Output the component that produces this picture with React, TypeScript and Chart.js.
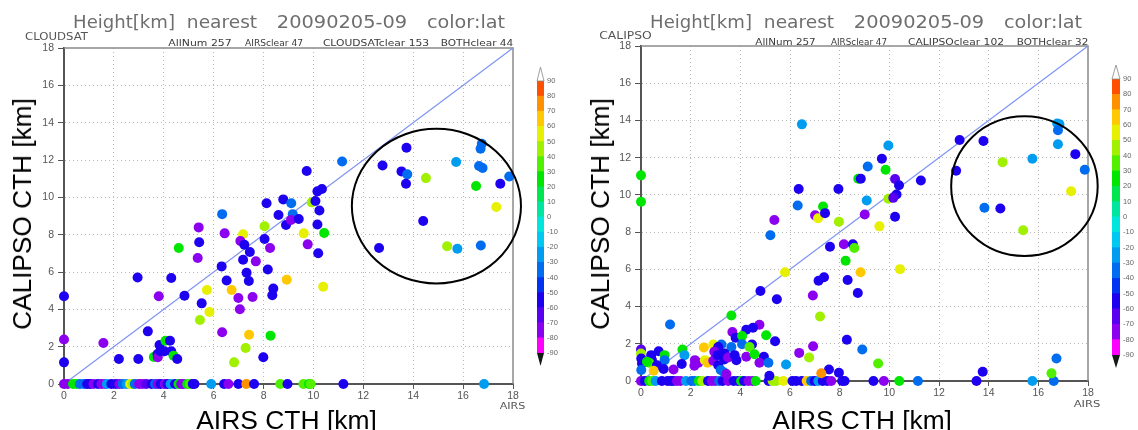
import React, { useEffect, useLayoutEffect, useRef, useState } from "react";
import { Chart, registerables } from "chart.js";
Chart.register(...registerables);

// ---------------- data ----------------
const AXIS_MIN = 0;
const AXIS_MAX = 18;
const AXIS_STEP = 2;
const ONE_TO_ONE = [0, 18];
const LAT_BOUNDS = [-90, -80, -70, -60, -50, -40, -30, -20, -10, 0, 10, 20, 30, 40, 50, 60, 70, 80, 90];
const BAND_COLORS = [
  "#ff00ff", "#8c00f0", "#5a00f0", "#1e00f0", "#0034f0", "#006cf0", "#009cf0", "#00c8f0", "#00e6dc",
  "#00e6a0", "#00e650", "#00e600", "#50f000", "#a0f000", "#e6f000", "#ffc800", "#ff9000", "#ff5000",
];

// CloudSat panel (AIRS CTH vs CTH, colour = latitude)
const CLOUDSAT_AIRS = [
  0, 0, 0, 1.58, 2.2, 2.98, 2.95, 3.36, 3.6, 3.75, 3.8, 3.76, 3.83, 3.86, 4.07, 4.25, 4.03, 4.3, 4.39, 4.54,
  4.3, 4.6, 4.83, 5.4, 5.42, 5.36, 5.52, 5.73, 5.45, 5.83, 6.34, 6.44, 6.32, 6.52, 6.72, 6.34, 6.82, 7.18, 7.07, 7.23,
  7.45, 7.18, 7.69, 7.32, 7.41, 6.99, 7.05, 7.56, 7.42, 7.28, 8.04, 8.12, 8.04, 8.26, 8.17, 8.39, 8.35, 8.28, 7.99, 8.6,
  8.79, 8.9, 8.93, 9.11, 9.17, 9.1, 9.41, 9.61, 9.73, 9.77, 9.93, 10.08, 10.16, 10.34, 10.24, 10.16, 10.43, 10.19, 10.39, 11.15,
  12.77, 13.73, 13.53, 13.76, 13.71, 14.51, 14.4, 12.63, 15.36, 15.77, 15.72, 16.75, 16.7, 16.64, 16.78, 16.52, 17.49, 17.85, 17.33, 16.71,
];
const CLOUDSAT_CTH = [
  4.7, 2.38, 1.16, 2.2, 1.34, 1.34, 5.71, 2.82, 1.45, 1.6, 4.7, 1.43, 2.09, 1.75, 2.32, 2.32, 1.75, 1.75, 1.52, 1.34,
  5.68, 7.29, 4.73, 8.39, 7.59, 6.75, 4.32, 5.04, 3.43, 3.86, 9.1, 8.07, 6.3, 5.54, 5.04, 2.77, 1.16, 8.02, 7.66, 7.46,
  7.07, 6.66, 6.57, 5.96, 5.52, 4.61, 4.0, 4.66, 2.64, 1.93, 8.45, 9.68, 7.77, 7.29, 6.13, 5.11, 4.75, 2.59, 1.43, 9.05,
  9.89, 8.52, 5.59, 9.68, 9.1, 8.79, 8.84, 8.07, 11.41, 7.48, 9.73, 9.8, 10.32, 10.45, 9.29, 8.54, 8.09, 7.0, 5.21, 11.92,
  11.71, 12.66, 11.39, 11.23, 10.73, 11.03, 8.73, 7.29, 7.38, 7.25, 11.89, 12.87, 12.6, 11.68, 11.57, 10.61, 10.73, 11.12, 9.48, 7.42,
];
const CLOUDSAT_LAT = [
  -55, -75, -55, -75, -55, -55, -55, -55, 25, -55, -75, -75, -55, -55, 25, -55, -55, -55, 25, -55,
  -55, 25, -55, -75, -55, -75, -55, 55, 45, 55, -35, -75, -55, -55, 65, -75, 45, 55, -75, -55,
  -55, -55, -75, -55, -55, -75, -75, -75, 65, 45, 45, -55, -55, -75, -55, -55, -55, 25, -55, -55,
  -55, -55, 65, -35, -35, -75, -55, 55, -55, -75, 45, -55, -55, -55, -55, -55, 25, -55, 55, -35,
  -55, -55, -55, -35, -55, 45, -55, -55, 45, -25, -25, -35, -35, -35, -35, 25, -55, -35, 55, -35,
];
// CloudSat clear (CTH = 0)
const CLOUDSAT_CLEAR_AIRS = [
  0, 0.15, 0.36, 0.5, 0.64, 0.8, 0.93, 1.05, 1.18, 1.36, 1.5, 1.65, 1.72, 1.9, 2.08, 2.22, 2.35, 2.51, 2.65, 2.75,
  2.84, 3.01, 3.15, 3.3, 3.51, 3.65, 3.75, 3.87, 4.04, 4.15, 4.27, 4.45, 4.59, 4.7, 4.8, 4.94, 5.05, 5.16, 5.23, 5.9,
  6.42, 6.59, 6.99, 7.31, 7.62, 8.67, 8.96, 9.6, 9.82, 9.89, 11.2, 16.84,
];
const CLOUDSAT_CLEAR_LAT = [
  -75, -75, 25, 25, -35, -35, -55, -55, -75, -55, -75, -75, -25, -55, -55, -75, -35, -25, 55, 45,
  -35, -75, -75, -65, -55, -35, -75, -55, -75, -55, -25, -55, 25, -75, -75, 25, 35, -55, -55, -25,
  -55, -75, -55, 75, -55, 35, -55, 35, 25, 35, -55, -25,
];

// CALIPSO panel
const CALIPSO_AIRS = [
  0, 0, 1.17, 6.48, 6.31, 6.35, 5.37, 5.21, 5.8, 4.81, 5.47, 7.01, 7.13, 7.33, 7.41, 7.61, 7.15, 7.37, 6.92, 7.21,
  7.95, 7.97, 8.17, 8.53, 8.59, 8.24, 8.32, 8.84, 8.73, 8.29, 8.91, 9.01, 9.09, 9.13, 8.75, 8.85, 9.7, 9.6, 9.55, 7.97,
  7.57, 7.26, 6.77, 6.93, 6.37, 5.84, 9.96, 9.85, 10.23, 10.39, 11.27, 10.29, 9.96, 10.16, 10.23, 10.43, 12.83, 13.79, 12.69, 14.56,
  15.76, 16.76, 16.85, 16.79, 16.79, 17.49, 17.87, 17.32, 13.83, 14.47, 15.39, 16.73, 16.53, 13.76,
  3.64, 4.77, 3.68, 3.81, 4.24, 4.51, 4.07, 5.04, 5.4, 2.53, 2.91, 3.24, 3.11, 3.64, 4.07, 4.47, 4.37, 1.67, 1.75, 0.71,
  0.95, 0.95, 0, 0, 0.01, 0.04, 0.01, 0.41, 0.44, 0.33, 0.24, 0.64, 0.51, 0.91, 1.31, 1.64, 2.17, 2.31, 2.15, 2.57,
  2.68, 2.91, 2.95, 3.08, 3.37, 3.35, 3.51, 3.77, 3.84, 3.11, 3.21, 3.35, 3.44, 4.24, 4.57, 4.95, 4.77, 5.13, 5.17,
];
const CALIPSO_CTH = [
  11.05, 9.63, 3.04, 13.79, 9.43, 10.32, 8.65, 7.83, 5.84, 4.84, 4.39, 8.9, 8.74, 9.38, 9.02, 7.21, 5.39, 5.57, 4.59, 3.47,
  10.32, 8.56, 7.35, 7.35, 7.15, 6.46, 5.43, 5.84, 4.73, 2.22, 1.69, 8.95, 9.7, 11.53, 10.87, 10.87, 11.94, 8.31, 0.94, 0.44,
  0.62, 0.42, 1.26, 1.87, 1.51, 0.89, 12.65, 11.35, 10.85, 10.52, 10.77, 10.02, 9.79, 9.84, 8.83, 6.01, 12.95, 12.9, 11.3, 11.76,
  11.94, 13.84, 13.8, 13.47, 12.72, 12.19, 11.35, 10.2, 9.31, 9.27, 8.1, 1.21, 0.41, 0.5,
  3.52, 3.02, 2.63, 2.33, 2.76, 2.86, 2.42, 2.46, 2.14, 1.8, 1.96, 1.96, 1.83, 1.83, 1.98, 1.96, 1.83, 1.69, 1.39, 1.6,
  1.39, 1.12, 1.69, 1.48, 1.21, 0.94, 0.59, 1.39, 1.12, 0.98, 1.03, 0.85, 0.55, 0.64, 0.62, 0.91, 1.12, 0.98, 0.82, 1.12,
  0.98, 1.09, 1.57, 1.39, 1.48, 1.16, 1.26, 1.39, 1.12, 0.85, 0.59, 0.46, 0.37, 1.3, 1.44, 1.3, 0.98, 0.98, 0.28,
];
const CALIPSO_LAT = [
  25, 25, -35, -25, -35, -55, -75, -35, 55, -55, -55, -75, 55, 25, -55, -55, -55, -55, -75, 45,
  -55, 45, -75, -55, 35, 25, -55, 65, -55, -55, -35, -75, -25, -35, 25, -55, -55, 55, 35, -55,
  -55, 75, 45, -75, -75, -25, -25, 25, -65, -55, -55, -55, 45, -65, -55, 55, -55, -55, -55, 45,
  -25, -25, -25, -35, -25, -55, -35, 55, -35, -55, 45, -35, 35, -55,
  25, -75, -75, -55, -55, -55, 25, 25, -55, 65, 55, -35, -55, -35, -35, -55, 35, 25, -25, -55,
  25, -35, -65, 45, -55, -55, -35, -55, -55, 35, 25, -55, 65, -55, -75, -55, -75, -75, -75, 55,
  65, -75, -75, -55, -55, -55, -75, -55, -55, -55, -35, -35, -75, -75, 25, -55, -75, -35, -55,
];
// CALIPSO clear (CTH = 0)
const CALIPSO_CLEAR_AIRS = [
  0, 0.15, 0.33, 0.45, 0.59, 0.84, 1.07, 1.2, 1.3, 1.45, 1.59, 1.81, 2.03, 2.15, 2.33, 2.47, 2.7, 2.85, 2.99, 3.15,
  3.29, 3.51, 3.73, 3.9, 4.03, 4.15, 4.33, 4.5, 4.62, 5.14, 5.3, 5.44, 5.73, 6.1, 6.25, 6.47, 6.67, 6.85, 6.99, 7.14,
  7.32, 7.5, 7.66, 8.1, 8.2, 9.36, 9.78, 10.4, 11.15, 13.51, 15.76, 16.62,
];
const CALIPSO_CLEAR_LAT = [
  -75, -55, 25, 35, -25, -55, -55, -55, -55, -75, -75, -25, -35, -35, 25, 45, -55, -75, -75, -35,
  -55, -75, -55, -55, 25, -55, -75, -75, 25, -55, 45, 45, 55, -55, -55, -55, 65, -35, -55, -25,
  -55, -55, -75, -55, -55, -55, -75, 25, -35, -55, -25, -35,
];

// circled regions (data units)
const CLOUDSAT_RING = { cx: 14.93, cy: 9.53, rx: 3.39, ry: 4.14 };
const CALIPSO_RING = { cx: 15.44, cy: 10.47, rx: 2.95, ry: 3.75 };

// ---------------- helpers ----------------
function latColor(lat: number) {
  const i = Math.min(BAND_COLORS.length - 1, Math.max(0, Math.floor((lat + 90) / 10)));
  return BAND_COLORS[i];
}

const TICK_FONT = { family: "Liberation Sans", size: 10.5 };
const TICK_COLOR = "#555";

const framePlugin = {
  id: "frame",
  beforeDatasetsDraw(chart: any) {
    const { ctx, chartArea: a } = chart;
    ctx.save();
    ctx.strokeStyle = "#8a8a8a";
    ctx.lineWidth = 1.5;
    ctx.beginPath();
    ctx.moveTo(a.left, a.top);
    ctx.lineTo(a.right, a.top);
    ctx.lineTo(a.right, a.bottom);
    ctx.stroke();
    ctx.restore();
  },
};

function ringPlugin(ring: { cx: number; cy: number; rx: number; ry: number }) {
  return {
    id: "ring",
    afterDatasetsDraw(chart: any) {
      const { ctx, scales } = chart;
      const x = scales.x, y = scales.y;
      const px = x.getPixelForValue(ring.cx);
      const py = y.getPixelForValue(ring.cy);
      const rx = Math.abs(x.getPixelForValue(ring.cx + ring.rx) - px);
      const ry = Math.abs(y.getPixelForValue(ring.cy + ring.ry) - py);
      ctx.save();
      ctx.strokeStyle = "#000";
      ctx.lineWidth = 2;
      ctx.beginPath();
      ctx.ellipse(px, py, rx, ry, 0, 0, Math.PI * 2);
      ctx.stroke();
      ctx.restore();
    },
  };
}

type PanelProps = {
  left: number; W: number; H: number;
  area: { l: number; t: number; r: number; b: number };
  xs: number[]; ys: number[]; lats: number[];
  clearXs: number[]; clearLats: number[];
  ring: { cx: number; cy: number; rx: number; ry: number };
};

function ScatterPanel(p: PanelProps) {
  const ref = useRef<HTMLCanvasElement>(null);
  useEffect(() => {
    if (!ref.current) return;
    const pts = [
      ...p.clearXs.map((x) => ({ x, y: 0 })),
      ...p.xs.map((x, i) => ({ x, y: p.ys[i] })),
    ];
    const cols = [...p.clearLats, ...p.lats].map(latColor);
    const gridColor = (c: any) =>
      c.tick && (c.tick.value === AXIS_MIN || c.tick.value === AXIS_MAX) ? "rgba(0,0,0,0)" : "#b8b8b8";
    const chart = new Chart(ref.current, {
      type: "scatter",
      data: {
        datasets: [
          {
            data: pts,
            pointBackgroundColor: cols,
            pointBorderWidth: 0,
            pointRadius: 5,
            pointHoverRadius: 5,
            clip: false as any,
          } as any,
          {
            type: "line",
            data: [
              { x: ONE_TO_ONE[0], y: ONE_TO_ONE[0] },
              { x: ONE_TO_ONE[1], y: ONE_TO_ONE[1] },
            ],
            borderColor: "#7f95f2",
            borderWidth: 1.2,
            pointRadius: 0,
            fill: false,
            clip: false as any,
          } as any,
        ],
      },
      options: {
        animation: false,
        responsive: false,
        devicePixelRatio: 1,
        events: [],
        layout: { padding: { left: 0, top: p.area.t, right: p.W - p.area.r, bottom: 0 } },
        plugins: { legend: { display: false }, tooltip: { enabled: false } },
        scales: {
          x: {
            type: "linear",
            min: AXIS_MIN,
            max: AXIS_MAX,
            ticks: { stepSize: AXIS_STEP, font: TICK_FONT, color: TICK_COLOR, padding: 1, maxRotation: 0, autoSkip: false },
            grid: { color: gridColor, lineWidth: 1, tickLength: 5, tickColor: "#555", tickWidth: 1 },
            border: { display: true, color: "#555", width: 2, dash: [1, 3] },
            afterFit: (s: any) => { s.height = p.H - p.area.b; },
          },
          y: {
            type: "linear",
            min: AXIS_MIN,
            max: AXIS_MAX,
            ticks: { stepSize: AXIS_STEP, font: TICK_FONT, color: TICK_COLOR, padding: 4, autoSkip: false },
            grid: { color: gridColor, lineWidth: 1, tickLength: 6, tickColor: "#555", tickWidth: 1 },
            border: { display: true, color: "#555", width: 2, dash: [1, 3] },
            afterFit: (s: any) => { s.width = p.area.l; },
          },
        },
      } as any,
      plugins: [framePlugin, ringPlugin(p.ring)],
    });
    return () => chart.destroy();
  }, []);
  return (
    <canvas
      ref={ref}
      width={p.W}
      height={p.H}
      style={{ position: "absolute", left: p.left, top: 0, width: p.W, height: p.H }}
    />
  );
}

const trianglePlugin = {
  id: "tri",
  afterDatasetsDraw(chart: any) {
    const { ctx, chartArea: a, scales } = chart;
    const y = scales.y;
    const top = y.getPixelForValue(90);
    const bot = y.getPixelForValue(-90);
    const cx = (a.left + a.right) / 2;
    ctx.save();
    ctx.beginPath();
    ctx.moveTo(a.left, top);
    ctx.lineTo(cx, top - 14);
    ctx.lineTo(a.right, top);
    ctx.closePath();
    ctx.fillStyle = "#fff";
    ctx.fill();
    ctx.strokeStyle = "#888";
    ctx.lineWidth = 0.8;
    ctx.stroke();
    ctx.beginPath();
    ctx.moveTo(a.left, bot);
    ctx.lineTo(cx, bot + 13);
    ctx.lineTo(a.right, bot);
    ctx.closePath();
    ctx.fillStyle = "#141a14";
    ctx.fill();
    ctx.restore();
  },
};

function ColorBar({ left, top, W, H, pl, pt, pb, axisW }: any) {
  const ref = useRef<HTMLCanvasElement>(null);
  useEffect(() => {
    if (!ref.current) return;
    const chart = new Chart(ref.current, {
      type: "bar",
      data: {
        labels: [""],
        datasets: BAND_COLORS.map((c, i) => ({
          data: [[LAT_BOUNDS[i], LAT_BOUNDS[i + 1]]] as any,
          backgroundColor: c,
          borderWidth: 0,
          grouped: false,
          barPercentage: 1,
          categoryPercentage: 1,
        })) as any,
      },
      options: {
        animation: false,
        responsive: false,
        devicePixelRatio: 1,
        events: [],
        layout: { padding: { left: pl, top: pt, right: 0, bottom: pb } },
        plugins: { legend: { display: false }, tooltip: { enabled: false } },
        scales: {
          x: { display: false },
          y: {
            position: "right",
            min: -90,
            max: 90,
            ticks: { stepSize: 10, font: { family: "Liberation Sans", size: 7.5 }, color: "#666", padding: 3, autoSkip: false },
            grid: { display: false, drawTicks: false },
            border: { display: false },
            afterFit: (s: any) => { s.width = axisW; },
          },
        },
      } as any,
      plugins: [trianglePlugin],
    });
    return () => chart.destroy();
  }, []);
  return (
    <canvas ref={ref} width={W} height={H} style={{ position: "absolute", left, top, width: W, height: H }} />
  );
}

type TextSpec = {
  text: string; cx: number; cy: number; len: number; size: number;
  font: string; color: string; weight?: string; rot?: boolean;
};

function hText(text: string, x1: number, x2: number, base: number, size: number, font: string, color: string, weight = "normal"): TextSpec {
  return { text, cx: (x1 + x2) / 2, cy: base - 0.346 * size, len: x2 - x1, size, font, color, weight };
}

const TITLE_FONT = "DejaVu Sans";
const AXIS_TITLE_FONT = "Liberation Sans";
const TEXTS: TextSpec[] = [
  hText("Height[km]", 73, 175, 28.5, 17, TITLE_FONT, "#6e6e6e"),
  hText("nearest", 187, 257, 28.5, 17, TITLE_FONT, "#6e6e6e"),
  hText("20090205-09", 277, 407, 28.5, 17, TITLE_FONT, "#6e6e6e"),
  hText("color:lat", 427, 505, 28.5, 17, TITLE_FONT, "#6e6e6e"),
  hText("Height[km]", 650, 752, 28.5, 17, TITLE_FONT, "#6e6e6e"),
  hText("nearest", 764, 834, 28.5, 17, TITLE_FONT, "#6e6e6e"),
  hText("20090205-09", 854, 984, 28.5, 17, TITLE_FONT, "#6e6e6e"),
  hText("color:lat", 1004, 1082, 28.5, 17, TITLE_FONT, "#6e6e6e"),
  hText("CLOUDSAT", 25, 88, 40, 10, TITLE_FONT, "#555"),
  hText("CALIPSO", 599, 652, 39.5, 10, TITLE_FONT, "#555"),
  hText("AllNum 257", 168, 232, 46.5, 8.5, TITLE_FONT, "#3a3a3a"),
  hText("AIRSclear 47", 245, 303, 46.5, 8.5, TITLE_FONT, "#3a3a3a"),
  hText("CLOUDSATclear 153", 323, 429, 46.5, 8.5, TITLE_FONT, "#3a3a3a"),
  hText("BOTHclear 44", 441, 513, 46.5, 8.5, TITLE_FONT, "#3a3a3a"),
  hText("AllNum 257", 755, 816, 45.5, 8.5, TITLE_FONT, "#3a3a3a"),
  hText("AIRSclear 47", 831, 887, 45.5, 8.5, TITLE_FONT, "#3a3a3a"),
  hText("CALIPSOclear 102", 908, 1004, 45.5, 8.5, TITLE_FONT, "#3a3a3a"),
  hText("BOTHclear 32", 1017, 1088, 45.5, 8.5, TITLE_FONT, "#3a3a3a"),
  hText("AIRS", 500, 525, 410, 8, TITLE_FONT, "#555"),
  hText("AIRS", 1074, 1100, 408, 8, TITLE_FONT, "#555"),
  hText("AIRS CTH [km]", 196, 377, 429, 26, AXIS_TITLE_FONT, "#000"),
  hText("AIRS CTH [km]", 772, 952, 429, 26, AXIS_TITLE_FONT, "#000"),
  { text: "CALIPSO CTH [km]", cx: 22, cy: 214, len: 232, size: 26, font: AXIS_TITLE_FONT, color: "#000", rot: true },
  { text: "CALIPSO CTH [km]", cx: 600, cy: 214, len: 232, size: 26, font: AXIS_TITLE_FONT, color: "#000", rot: true },
];

function FitText({ s }: { s: TextSpec }) {
  const ref = useRef<HTMLDivElement>(null);
  const [k, setK] = useState(1);
  useLayoutEffect(() => {
    const el = ref.current;
    if (el && el.offsetWidth) setK(s.len / el.offsetWidth);
  }, [s]);
  const rot = s.rot ? " rotate(-90deg)" : "";
  return (
    <div
      ref={ref}
      style={{
        position: "absolute",
        left: 0,
        top: 0,
        whiteSpace: "pre",
        fontFamily: s.font,
        fontSize: s.size + "px",
        lineHeight: s.size + "px",
        color: s.color,
        fontWeight: (s.weight || "normal") as any,
        transformOrigin: "0 0",
        transform: `translate(${s.cx}px, ${s.cy}px)${rot} scaleX(${k}) translate(-50%, -50%)`,
      }}
    >
      {s.text}
    </div>
  );
}

export default function App() {
  return (
    <div style={{ position: "fixed", left: 0, top: 0, width: 1138, height: 430, background: "#fff", overflow: "hidden" }}>
      <ScatterPanel
        left={0} W={530} H={430}
        area={{ l: 64, t: 48, r: 513, b: 384 }}
        xs={CLOUDSAT_AIRS} ys={CLOUDSAT_CTH} lats={CLOUDSAT_LAT}
        clearXs={CLOUDSAT_CLEAR_AIRS} clearLats={CLOUDSAT_CLEAR_LAT}
        ring={CLOUDSAT_RING}
      />
      <ScatterPanel
        left={576} W={530} H={430}
        area={{ l: 65, t: 46, r: 512, b: 381 }}
        xs={CALIPSO_AIRS} ys={CALIPSO_CTH} lats={CALIPSO_LAT}
        clearXs={CALIPSO_CLEAR_AIRS} clearLats={CALIPSO_CLEAR_LAT}
        ring={CALIPSO_RING}
      />
      <ColorBar left={530} top={60} W={40} H={310} pl={7} pt={21} pb={17} axisW={26} />
      <ColorBar left={1105} top={60} W={33} H={310} pl={7} pt={19} pb={15} axisW={18} />
      {TEXTS.map((s, i) => (
        <FitText key={i} s={s} />
      ))}
    </div>
  );
}
